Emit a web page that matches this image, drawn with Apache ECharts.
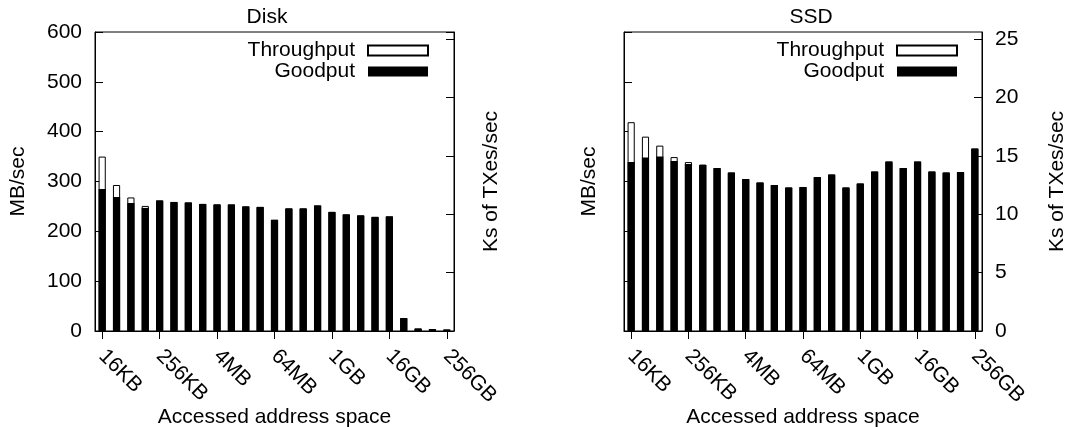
<!DOCTYPE html>
<html>
<head>
<meta charset="utf-8">
<script src="https://cdn.jsdelivr.net/npm/echarts@6/dist/echarts.min.js"></script>
<style>
  html, body { margin: 0; padding: 0; background: #fff; }
  #chart { width: 1070px; height: 427px; }
</style>
</head>
<body>
<div id="chart"></div>
<script>
// Accessed address space, one bar per power of two
const sizes = ['16KB','32KB','64KB','128KB','256KB','512KB','1MB','2MB','4MB','8MB','16MB','32MB',
  '64MB','128MB','256MB','512MB','1GB','2GB','4GB','8GB','16GB','32GB','64GB','128GB','256GB'];

// Disk, MB/sec
const diskThroughput = [350, 293, 268, 251, 262, 259, 258, 255, 254, 254, 250, 249, 223,
  246, 246, 252, 239, 234, 232, 229, 230, 26, 5, 4, 3];
const diskGoodput = [285, 269, 257, 247, 262, 259, 258, 255, 254, 254, 250, 249, 223,
  246, 246, 252, 239, 234, 232, 229, 230, 26, 5, 4, 3];

// SSD, MB/sec
const ssdThroughput = [419, 390, 372, 349, 339, 334, 327, 318, 305, 298, 293, 288, 289,
  309, 314, 288, 296, 320, 340, 327, 340, 320, 318, 319, 366];
const ssdGoodput = [339, 348, 350, 341, 335, 333, 327, 318, 305, 298, 293, 288, 289,
  309, 314, 288, 296, 320, 340, 327, 340, 320, 318, 319, 366];

const panelTitles = ['Disk', 'SSD'];
const seriesNames = ['Throughput', 'Goodput'];
const mbMax = 600, mbStep = 100;       // left axis, MB/sec
const txMax = 25.6, txStep = 5;        // right axis, Ks of TXes/sec

const FONT = '"Liberation Sans", Arial, Helvetica, sans-serif';
const FS = 21;
const txt = { color: '#000', fontSize: FS, fontFamily: FONT };

const grids = [
  { left: 95, top: 32, width: 359, height: 299 },
  { left: 624, top: 32, width: 358, height: 299 }
];

function xAxisFor(i) {
  return {
    gridIndex: i, type: 'category', data: sizes, boundaryGap: true,
    axisLine: { show: true, lineStyle: { color: '#000', width: 1 } },
    axisTick: { show: true, interval: 3, alignWithLabel: true, length: 8, inside: false,
      lineStyle: { color: '#000', width: 1 } },
    axisLabel: Object.assign({ interval: 3, rotate: -45, margin: 22 }, txt),
    splitLine: { show: false },
    name: 'Accessed address space', nameLocation: 'middle', nameGap: 76,
    nameMoveOverlap: false,
    nameTextStyle: txt
  };
}

function yAxisFor(i, side, max, step, showLabels, name, gap) {
  return {
    gridIndex: i, type: 'value', position: side, min: 0, max: max, interval: step,
    axisLine: { show: true, lineStyle: { color: '#000', width: 1 } },
    axisTick: { show: true, inside: true, length: 8, lineStyle: { color: '#000', width: 1 } },
    axisLabel: Object.assign({ show: showLabels, margin: 13, showMaxLabel: max % step === 0 }, txt),
    splitLine: { show: false },
    name: name, nameLocation: 'middle', nameGap: gap, nameMoveOverlap: false, nameTextStyle: txt
  };
}

function barsFor(i, through, good) {
  const common = { type: 'bar', xAxisIndex: i, yAxisIndex: i * 2, barWidth: '50%', barGap: '-100%' };
  return [
    Object.assign({ name: seriesNames[0], data: through,
      itemStyle: { color: '#fff', borderColor: '#000', borderWidth: 1 } }, common),
    Object.assign({ name: seriesNames[1], data: good,
      itemStyle: { color: '#000', borderColor: '#000', borderWidth: 0 } }, common)
  ];
}

function legendFor(right) {
  return {
    data: seriesNames, orient: 'vertical', align: 'right', right: right, top: 40, padding: 0,
    itemGap: 0, itemWidth: 60, itemHeight: 10, icon: 'rect', selectedMode: false,
    textStyle: Object.assign({ lineHeight: 21, padding: [0, 8, 0, 0] }, txt)
  };
}

const chart = echarts.init(document.getElementById('chart'), null, { renderer: 'canvas' });
chart.setOption({
  animation: false,
  backgroundColor: '#fff',
  grid: grids.map(g => Object.assign({ show: true, borderColor: '#000', borderWidth: 1,
    backgroundColor: 'transparent', containLabel: false, outerBoundsMode: 'none' }, g)),
  xAxis: [xAxisFor(0), xAxisFor(1)],
  yAxis: [
    yAxisFor(0, 'left', mbMax, mbStep, true, 'MB/sec', 66),
    yAxisFor(0, 'right', txMax, txStep, false, 'Ks of TXes/sec', 27),
    yAxisFor(1, 'left', mbMax, mbStep, false, 'MB/sec', 24),
    yAxisFor(1, 'right', txMax, txStep, true, 'Ks of TXes/sec', 65)
  ],
  legend: [legendFor(641), legendFor(112)],
  graphic: [
    { type: 'text', x: 267, y: 17, style: { text: panelTitles[0], fill: '#000',
      font: FS + 'px ' + FONT, align: 'center', verticalAlign: 'middle' } },
    { type: 'text', x: 811, y: 17, style: { text: panelTitles[1], fill: '#000',
      font: FS + 'px ' + FONT, align: 'center', verticalAlign: 'middle' } }
  ],
  series: [].concat(barsFor(0, diskThroughput, diskGoodput), barsFor(1, ssdThroughput, ssdGoodput))
});
</script>
</body>
</html>
